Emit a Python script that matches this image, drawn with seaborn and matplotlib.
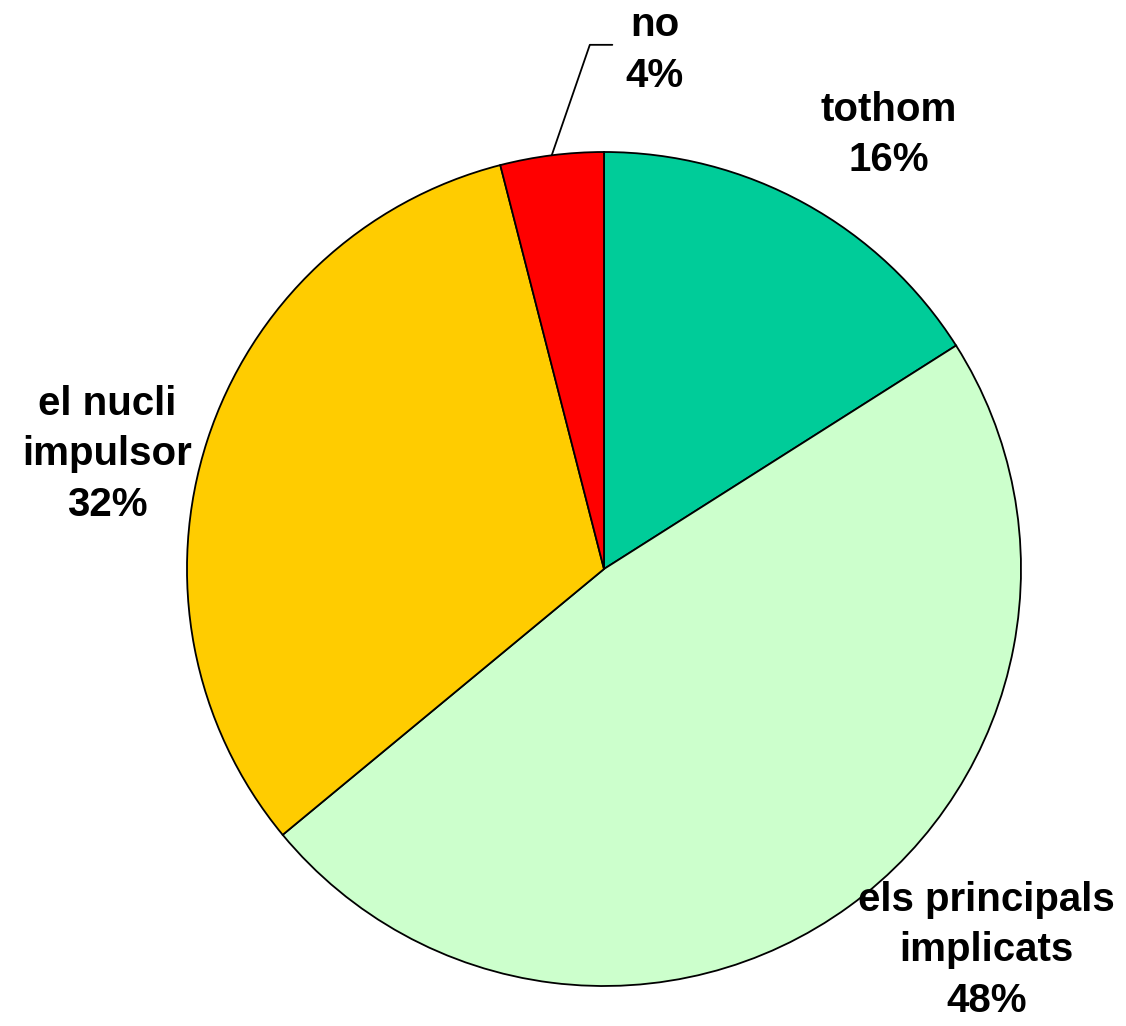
import numpy as np
import matplotlib.pyplot as plt
import seaborn as sns

sns.set_theme(style="white")
plt.rcParams["font.family"] = ["Liberation Sans", "DejaVu Sans"]

labels = ["tothom", "els principals\nimplicats", "el nucli\nimpulsor", "no"]
values = [16, 48, 32, 4]
colors = ["#00CC99", "#CCFFCC", "#FFCC00", "#FF0000"]

fig = plt.figure(figsize=(11.26, 10.26), dpi=100)
ax = fig.add_axes([0, 0, 1, 1])

wedges, _ = ax.pie(values, colors=colors, startangle=90, counterclock=False,
                   radius=1.0, wedgeprops=dict(edgecolor="black", linewidth=1.3))

# label placement (distance from center, angle in degrees)
label_pos = [(1.245, 56.7), (1.296, -44.9), (1.223, 167.0), (1.25, 84.4)]
for w, lab, v, (d, a) in zip(wedges, labels, values, label_pos):
    x, y = d * np.cos(np.radians(a)), d * np.sin(np.radians(a))
    ax.text(x, y, f"{lab}\n{v}%", ha="center", va="center", fontsize=29,
            fontweight="bold", linespacing=1.42, color="black")

# leader line for the small slice
w = wedges[3]
mid = np.radians((w.theta1 + w.theta2) / 2)
ex, ey = np.cos(mid), np.sin(mid)
ax.plot([ex, -0.034, 0.02], [ey, 1.257, 1.257], color="black", lw=1.3)

ax.set_xlim(-1.4484, 1.2518)
ax.set_ylim(-1.0959, 1.3645)
ax.set_aspect("auto")
ax.axis("off")
fig.savefig("out.png", dpi=100, facecolor="white")
